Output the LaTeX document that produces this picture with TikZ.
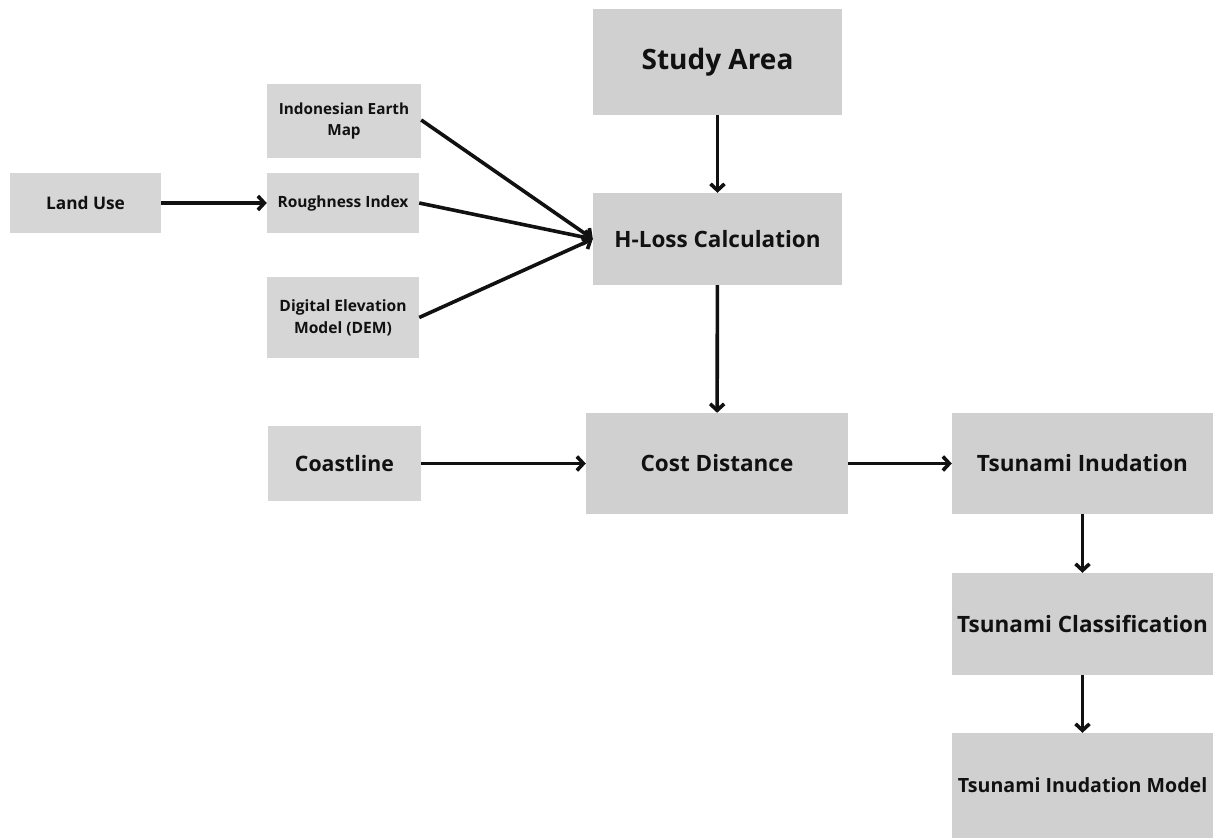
\documentclass[tikz,border=0pt]{standalone}
\usepackage{fontspec}
\setmainfont{Open Sans}
\usetikzlibrary{arrows.meta}
\definecolor{boxfill}{RGB}{214,214,214}
\definecolor{bigfill}{RGB}{208,208,208}
\definecolor{ink}{RGB}{17,17,17}
\tikzset{
  box/.style={rectangle, fill=boxfill, draw=none, inner sep=0pt, align=center, text=ink, font=\bfseries},
  bigbox/.style={box, fill=bigfill},
  conn/.style={line width=3.6pt, draw=ink, -{Straight Barb[length=6.5pt,width=14pt,line width=3.6pt]}},
}
\begin{document}
\begin{tikzpicture}[x=1pt,y=-1pt]
\useasboundingbox (0,0) rectangle (1214,838);
\node[bigbox, minimum width=249pt, minimum height=106pt, font=\bfseries\fontsize{28}{32}\selectfont] (study) at (717.5,62) {Study Area};
\node[bigbox, minimum width=249pt, minimum height=92pt, font=\bfseries\fontsize{22.5}{26}\selectfont] (hloss) at (717.5,239) {H-Loss Calculation};
\node[box, minimum width=154pt, minimum height=74pt, font=\bfseries\fontsize{15.3}{21.5}\selectfont] (iem) at (344,121) {Indonesian Earth\\Map};
\node[box, minimum width=152pt, minimum height=60pt, font=\bfseries\fontsize{15.5}{19}\selectfont] (rough) at (343,203) {Roughness Index};
\node[box, minimum width=151pt, minimum height=60pt, font=\bfseries\fontsize{17.3}{21}\selectfont] (land) at (85.5,203) {Land Use};
\node[box, minimum width=152pt, minimum height=81pt, font=\bfseries\fontsize{15.6}{22}\selectfont] (dem) at (343,317.5) {Digital Elevation\\Model (DEM)};
\node[box, minimum width=153pt, minimum height=75pt, font=\bfseries\fontsize{21.3}{25}\selectfont] (coast) at (344.5,463.5) {Coastline};
\node[bigbox, minimum width=262pt, minimum height=101pt, font=\bfseries\fontsize{22.5}{26}\selectfont] (cost) at (717,463.5) {Cost Distance};
\node[bigbox, minimum width=261pt, minimum height=101pt, font=\bfseries\fontsize{22.5}{26}\selectfont] (tinu) at (1082.5,463.5) {Tsunami Inudation};
\node[bigbox, minimum width=261pt, minimum height=102pt, font=\bfseries\fontsize{22.5}{26}\selectfont] (tclass) at (1082.5,624) {Tsunami Classification};
\node[bigbox, minimum width=261pt, minimum height=105pt, font=\bfseries\fontsize{19.6}{23}\selectfont] (tmodel) at (1082.5,785.5) {Tsunami Inudation Model};
\draw[conn] (study) -- (hloss);
\draw[conn] (land) -- (rough);
\draw[conn] ([yshift=1pt]iem.east) -- (hloss.west);
\draw[conn] (rough.east) -- (hloss.west);
\draw[conn] (dem.east) -- (hloss.west);
\draw[conn] (hloss) -- (cost);
\draw[conn] (coast) -- (cost);
\draw[conn] (cost) -- (tinu);
\draw[conn] (tinu) -- (tclass);
\draw[conn] (tclass) -- (tmodel);
\end{tikzpicture}
\end{document}
